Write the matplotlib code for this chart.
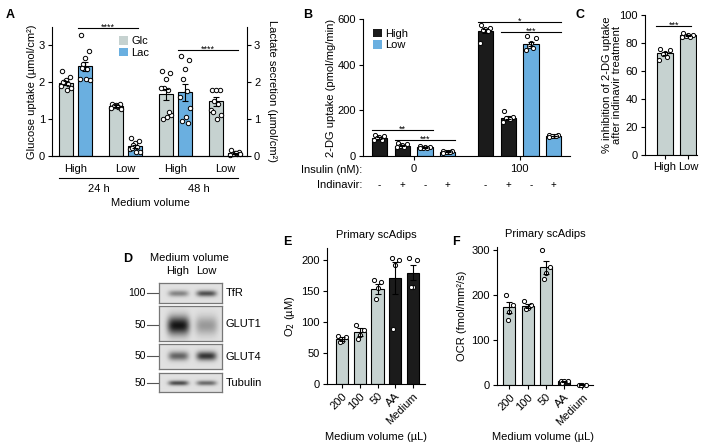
import numpy as np
import matplotlib.pyplot as plt
from matplotlib.patches import Patch
from matplotlib.transforms import blended_transform_factory

plt.rcParams['font.family'] = ['Liberation Sans', 'DejaVu Sans']
plt.rcParams['font.size'] = 8
plt.rcParams['axes.linewidth'] = 0.8
plt.rcParams['xtick.major.width'] = 0.8
plt.rcParams['ytick.major.width'] = 0.8
plt.rcParams['xtick.major.size'] = 3
plt.rcParams['ytick.major.size'] = 3
plt.rcParams['xtick.major.pad'] = 2
plt.rcParams['ytick.major.pad'] = 2

GREY = '#c6d2d0'
BLUE = '#6aafe0'
BLACK = '#1b1b1b'

# ---------------- data ----------------
# A: glucose uptake / lactate secretion
a_vol = ['High', 'Low', 'High', 'Low']
a_time = ['24 h', '48 h']
glc_mean = [1.98, 1.35, 1.67, 1.48]
glc_sem = [0.06, 0.03, 0.15, 0.11]
glc_pts = [[2.3, 2.15, 2.05, 2.0, 1.95, 1.9, 1.85, 1.8, 2.0],
           [1.42, 1.40, 1.38, 1.35, 1.33, 1.30, 1.28, 1.35],
           [2.3, 2.25, 2.1, 1.85, 1.8, 1.85, 1.1, 1.05, 1.0, 1.2],
           [1.8, 1.8, 1.8, 1.5, 1.4, 1.25, 1.1, 1.0, 1.2]]
lac_mean = [2.43, 0.27, 1.73, 0.07]
lac_sem = [0.13, 0.04, 0.23, 0.02]
lac_pts = [[3.27, 2.85, 2.65, 2.5, 2.35, 2.1, 2.05, 2.1, 2.4],
           [0.48, 0.42, 0.35, 0.30, 0.25, 0.2, 0.12, 0.1, 0.22],
           [2.7, 2.6, 2.35, 2.1, 1.75, 1.6, 1.3, 1.05, 0.95, 0.9],
           [0.15, 0.1, 0.08, 0.06, 0.05, 0.04, 0.05, 0.07]]

# B: 2-DG uptake
b_insulin = ['0', '100']
b_indinavir = ['-', '+', '-', '+', '-', '+', '-', '+']
b_volume = ['High', 'High', 'Low', 'Low', 'High', 'High', 'Low', 'Low']
b_mean = [80, 45, 38, 19, 547, 168, 492, 88]
b_sem = [4, 3, 1.5, 1.5, 10, 6, 9, 1.5]
b_pts = [[90, 88, 84, 78, 72, 70],
         [55, 52, 48, 43, 40, 38],
         [42, 40, 38, 37, 36, 35],
         [24, 21, 19, 18, 16, 15],
         [572, 560, 555, 552, 548, 495],
         [197, 170, 168, 166, 160, 150],
         [526, 515, 495, 480, 475, 465],
         [92, 90, 89, 88, 86, 84]]

# C: % inhibition
c_labels = ['High', 'Low']
c_mean = [72.5, 85.5]
c_sem = [1.2, 0.5]
c_pts = [[76, 75, 73, 72, 70, 68], [87, 86, 86, 85, 84, 84]]

# D: western blot band strength (High, Low)
blot_names = ['TfR', 'GLUT1', 'GLUT4', 'Tubulin']
blot_markers = ['100', '50', '50', '50']
blot_strength = [[0.45, 0.70], [1.0, 0.35], [0.62, 0.85], [0.75, 0.6]]

# E / F: primary scAdips
ef_labels = ['200', '100', '50', 'AA', 'Medium']
e_mean = [73, 84, 154, 172, 180]
e_sem = [3, 7, 8, 26, 12]
e_pts = [[78, 76, 70, 68], [95, 88, 80, 73], [168, 165, 155, 138],
         [204, 201, 193, 89], [204, 201, 157, 157]]
f_mean = [173, 176, 262, 8, 1]
f_sem = [12, 4, 14, 1.5, 0.3]
f_pts = [[201, 178, 163, 144], [186, 178, 172, 168], [301, 262, 250, 236],
         [10, 10, 8, 5], [1, 1, 1, 1]]
ef_colors = [GREY, GREY, GREY, BLACK, BLACK]

# ---------------- helpers ----------------
W, H = 705, 444
fig = plt.figure(figsize=(W / 100, H / 100), dpi=100)


def add_ax(x0, y0, x1, y1):
    return fig.add_axes([x0 / W, 1 - y1 / H, (x1 - x0) / W, (y1 - y0) / H])


def ftext(x, y, s, **kw):
    fig.text(x / W, 1 - y / H, s, **kw)


def fy(y):
    return 1 - y / H


JIT = np.array([-0.3, 0.3, 0.0, -0.15, 0.15, -0.35, 0.35, 0.05, -0.2, 0.2])


def bars(ax, xs, means, sems, pts, colors, width, s=10):
    ax.bar(xs, means, width, color=colors, edgecolor='black',
           linewidth=0.8, zorder=2)
    for x, m, e, p in zip(xs, means, sems, pts):
        offs = JIT[:len(p)] * width
        ax.scatter(x + offs, p, s=s, facecolor='white', edgecolor='black',
                   linewidth=0.7, zorder=3, clip_on=False)
        ax.errorbar(x, m, yerr=e, color='black', capsize=2.5, lw=0.8,
                    capthick=0.8, zorder=4)


def sig(ax, x0, x1, y, txt, fs=6.5):
    ax.plot([x0, x1], [y, y], color='black', lw=0.8, clip_on=False)
    ax.annotate(txt, xy=((x0 + x1) / 2, y), xytext=(0, -1.5),
                textcoords='offset points', ha='center', va='baseline',
                fontsize=fs, annotation_clip=False)


def clean(ax):
    ax.spines['top'].set_visible(False)
    ax.spines['right'].set_visible(False)


# ---------------- A ----------------
ax = add_ax(52, 27, 247, 156)
pos = np.arange(4)
gx = pos - 0.19
lx = pos + 0.19
bars(ax, gx, glc_mean, glc_sem, glc_pts, GREY, 0.28)
bars(ax, lx, lac_mean, lac_sem, lac_pts, BLUE, 0.28)
ax.set_xlim(-0.47, 3.43)
ax.set_ylim(0, 3.5)
ax.set_yticks([0, 1, 2, 3])
ax.set_xticks(pos)
ax.set_xticklabels(a_vol, fontsize=8)
ax.tick_params(axis='x', length=0, pad=6)
ax.set_ylabel('Glucose uptake (µmol/cm²)', labelpad=1)
ax.spines['top'].set_visible(False)
ax.spines['right'].set_visible(False)
ax2 = ax.twinx()
ax2.set_ylim(0, 3.5)
ax2.set_yticks([0, 1, 2, 3])
ax2.spines['top'].set_visible(False)
ax2.spines['left'].set_visible(False)
ax2.set_ylabel('Lactate secretion (µmol/cm²)', rotation=270, labelpad=12)
sig(ax, lx[0] - 0.14, lx[1] + 0.06, 3.47, '****')
sig(ax, lx[2] - 0.14, lx[3] + 0.06, 2.88, '****')
ax.legend(handles=[Patch(facecolor=GREY, label='Glc'),
                   Patch(facecolor=BLUE, label='Lac')],
          loc='upper left', bbox_to_anchor=(0.345, 0.93), frameon=False,
          handlelength=0.8, handleheight=0.8, handletextpad=0.3,
          labelspacing=0.15, borderpad=0, borderaxespad=0, fontsize=8)
tr = blended_transform_factory(ax.transData, fig.transFigure)
for i, t in enumerate(a_time):
    x0, x1 = gx[2 * i] - 0.14, lx[2 * i + 1] + 0.06
    ax.plot([x0, x1], [fy(178), fy(178)], color='black', lw=0.8,
            transform=tr, clip_on=False)
    ax.text((x0 + x1) / 2, fy(189), t, transform=tr, ha='center',
            va='center')
ftext(150, 203, 'Medium volume', ha='center', va='center')

# ---------------- B ----------------
ax = add_ax(363, 19, 570, 156)
bx = np.r_[np.arange(4), np.arange(4) + 4.65]
bcol = [BLACK if v == 'High' else BLUE for v in b_volume]
bars(ax, bx, b_mean, b_sem, b_pts, bcol, 0.66, s=9)
clean(ax)
ax.set_xlim(-0.72, 8.36)
ax.set_ylim(0, 600)
ax.set_yticks([0, 200, 400, 600])
ax.set_xticks([1.5, 6.15])
ax.set_xticklabels(b_insulin)
ax.tick_params(axis='x', pad=3)
ax.set_ylabel('2-DG uptake (pmol/mg/min)', labelpad=1)
sig(ax, bx[0] - 0.33, bx[2] + 0.33, 114, '**')
sig(ax, bx[1] - 0.33, bx[3] + 0.33, 70, '***')
sig(ax, bx[4] - 0.33, bx[7] + 0.33, 588, '*')
sig(ax, bx[5] - 0.33, bx[7] + 0.33, 544, '***')
ax.legend(handles=[Patch(facecolor=BLACK, label='High'),
                   Patch(facecolor=BLUE, label='Low')],
          loc='upper left', bbox_to_anchor=(0.05, 0.93), frameon=False,
          handlelength=0.8, handleheight=0.8, handletextpad=0.3,
          labelspacing=0.15, borderpad=0, borderaxespad=0, fontsize=8)
tr = blended_transform_factory(ax.transData, fig.transFigure)
for x, s in zip(bx, b_indinavir):
    ax.text(x, fy(185), s, transform=tr, ha='center', va='center',
            fontsize=7)
ftext(362, 170, 'Insulin (nM):', ha='right', va='center')
ftext(362, 185, 'Indinavir:', ha='right', va='center')

# ---------------- C ----------------
ax = add_ax(645, 15, 697, 155)
cx = np.arange(2)
bars(ax, cx, c_mean, c_sem, c_pts, GREY, 0.7, s=9)
clean(ax)
ax.set_xlim(-0.87, 1.39)
ax.set_ylim(0, 100)
ax.set_yticks(range(0, 101, 20))
ax.set_xticks(cx)
ax.set_xticklabels(c_labels)
ax.set_ylabel('% inhibition of 2-DG uptake\nafter indinavir treatment',
              labelpad=-2, linespacing=1.0)
sig(ax, -0.4, 1.15, 92.4, '***')

# ---------------- D ----------------
lane_c = [19, 47]
box_y = [(283, 303), (306, 341), (344, 369), (373, 392)]
band_y = [10, 19, 12, 10]
band_sy = [2.2, 6.5, 3.0, 1.6]
band_sx = [10, 11, 10, 10]
for name, mk, st, (y0, y1), by, sy, sx in zip(
        blot_names, blot_markers, blot_strength, box_y, band_y, band_sy,
        band_sx):
    bax = add_ax(159, y0, 222, y1)
    hh, ww = y1 - y0, 63
    yy, xx = np.mgrid[0:hh, 0:ww]
    img = np.zeros((hh, ww))
    for c, k in zip(lane_c, st):
        img += k * np.exp(-((xx - c) / sx) ** 4) * \
            np.exp(-0.5 * ((yy - by) / sy) ** 2)
    bax.imshow(0.88 - 0.8 * np.clip(img, 0, 1), cmap='gray', vmin=0, vmax=1,
               aspect='auto', interpolation='bilinear')
    bax.set_xticks([])
    bax.set_yticks([])
    for sp in bax.spines.values():
        sp.set_color('#777777')
        sp.set_linewidth(0.9)
    yc = y0 + by
    fig.add_artist(plt.Line2D([147 / W, 158 / W], [fy(yc), fy(yc)],
                              color='#555555', lw=0.8))
    ftext(146, yc, mk, ha='right', va='center', fontsize=7.5)
    ftext(226, y0 + (y1 - y0) / 2, name, ha='left', va='center')
ftext(150, 258, 'Medium volume', ha='left', va='center')
ftext(178, 271, 'High', ha='center', va='center')
ftext(206, 271, 'Low', ha='center', va='center')

# ---------------- E ----------------
ax = add_ax(327, 248, 425, 384)
ex = np.arange(5)
bars(ax, ex, e_mean, e_sem, e_pts, ef_colors, 0.7, s=9)
clean(ax)
ax.set_xlim(-0.85, 4.68)
ax.set_ylim(0, 220)
ax.set_yticks(range(0, 201, 50))
ax.set_xticks(ex)
ax.set_xticklabels(ef_labels, rotation=45, ha='right',
                   rotation_mode='anchor')
ax.set_ylabel('O$_2$ (µM)', labelpad=3)
ax.set_title('Primary scAdips', fontsize=8, pad=7)
ftext(376, 437, 'Medium volume (µL)', ha='center', va='center')

# ---------------- F ----------------
ax = add_ax(497, 247, 593, 385)
fx = np.arange(5)
bars(ax, fx, f_mean, f_sem, f_pts, ef_colors, 0.66, s=9)
clean(ax)
ax.set_xlim(-0.68, 4.58)
ax.set_ylim(0, 307)
ax.set_yticks([0, 100, 200, 300])
ax.set_xticks(fx)
ax.set_xticklabels(ef_labels, rotation=45, ha='right',
                   rotation_mode='anchor')
ax.set_ylabel('OCR (fmol/mm²/s)', labelpad=3)
ax.set_title('Primary scAdips', fontsize=8, pad=7)
ftext(543, 437, 'Medium volume (µL)', ha='center', va='center')

# panel letters
for lab, x, y in [('A', 10, 15), ('B', 308, 15), ('C', 580, 15),
                  ('D', 128, 259), ('E', 287, 242), ('F', 456, 242)]:
    ftext(x, y, lab, ha='center', va='center', fontsize=9,
          fontweight='bold')

fig.savefig('out.png', dpi=100)
